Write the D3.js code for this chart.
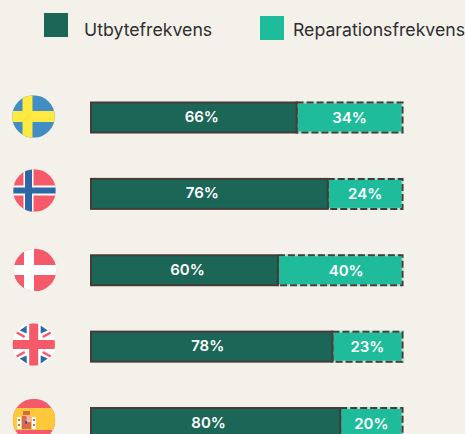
<!DOCTYPE html>
<html><head><meta charset="utf-8">
<script src="https://cdn.jsdelivr.net/npm/d3@7/dist/d3.min.js"></script>
<style>html,body{margin:0;padding:0;background:#f4f1ea;overflow:hidden}svg{display:block}text{font-family:Inter,"DejaVu Sans",sans-serif}</style>
</head><body><div id="c"></div>
<script>
const countries = ["SE","NO","DK","GB","ES"];
const replaceRate = [66, 76, 60, 77.5, 80];
const repairRate = [34, 24, 40, 22.5, 20];
const seriesNames = ["Utbytefrekvens","Reparationsfrekvens"];
const colors = ["#1b6657","#1fbc9b"];
const W=465,H=434;
const svg=d3.select("#c").append("svg").attr("width",W).attr("height",H);
svg.append("rect").attr("width",W).attr("height",H).attr("fill","#f4f1ea");
const x=d3.scaleLinear().domain([0,100]).range([91,402.5]);
const y=d3.scalePoint().domain(countries).range([117.5,423]);
const barH=30;
const ink="#453c38";
svg.append("rect").attr("x",44).attr("y",13).attr("width",24).attr("height",24).attr("fill",colors[0]);
svg.append("rect").attr("x",260).attr("y",16).attr("width",24).attr("height",24).attr("fill",colors[1]);
[[84,seriesNames[0]],[293,seriesNames[1]]].forEach(([lx,t])=>svg.append("text").attr("x",lx).attr("y",36).attr("font-size",17.7).attr("fill","#2e2e30").text(t));
const leftShift=[8,-7,3,-4,-7], rightShift=[0,0,6,0,0];
countries.forEach((c,i)=>{
  const yy=y(c)-barH/2;
  const g=svg.append("g");
  const x1=x(replaceRate[i]),x2=x(replaceRate[i]+repairRate[i]);
  g.append("rect").attr("x",x1).attr("y",yy).attr("width",x2-x1).attr("height",barH).attr("fill",colors[1]);
  g.append("rect").attr("x",x1).attr("y",yy).attr("width",x2-x1).attr("height",barH).attr("fill","none")
    .attr("stroke","#a8e6d6").attr("stroke-width",2);
  g.append("rect").attr("x",x1).attr("y",yy).attr("width",x2-x1).attr("height",barH).attr("fill","none")
    .attr("stroke",ink).attr("stroke-width",2).attr("stroke-dasharray","7 3");
  g.append("rect").attr("x",x(0)).attr("y",yy).attr("width",x1-x(0)).attr("height",barH)
    .attr("fill",colors[0]).attr("stroke",ink).attr("stroke-width",2);
  g.append("text").attr("x",(x(0)+x1)/2+leftShift[i]).attr("y",y(c)+4.5).attr("text-anchor","middle").attr("font-size",15).attr("font-weight",600).attr("fill","#fff").text(Math.round(replaceRate[i])+"%");
  g.append("text").attr("x",(x1+x2)/2+rightShift[i]).attr("y",y(c)+5.5).attr("text-anchor","middle").attr("font-size",15).attr("font-weight",600).attr("fill","#fff").text(Math.round(repairRate[i])+"%");
});
const R=21.3;
const defs=svg.append("defs");
const flagX=[33.5,34.5,35,33.7,34], flagY=[116.5,190.5,270,344.5,420];
const red="#f55a6a",blue="#2d67a6",white="#fff";
function rect(g,a,b,w,h,f){g.append("rect").attr("x",a).attr("y",b).attr("width",w).attr("height",h).attr("fill",f);}
function flag(i,fn){
  defs.append("clipPath").attr("id","f"+i).append("circle").attr("r",R);
  const g=svg.append("g").attr("transform",`translate(${flagX[i]},${flagY[i]})`).append("g").attr("clip-path",`url(#f${i})`);
  fn(g);
}
flag(0,g=>{rect(g,-R,-R,2*R,2*R,"#428dc4");rect(g,-11,-R,10,2*R,"#fde93f");rect(g,-R,-5.5,2*R,11,"#fde93f");});
flag(1,g=>{rect(g,-R,-R,2*R,2*R,red);rect(g,-11,-R,10,2*R,white);rect(g,-R,-5,2*R,10,white);rect(g,-9.5,-R,7,2*R,blue);rect(g,-R,-3,2*R,6,blue);});
flag(2,g=>{rect(g,-R,-R,2*R,2*R,red);rect(g,-11,-R,10,2*R,white);rect(g,-R,-5,2*R,10,white);});
flag(3,g=>{rect(g,-R,-R,2*R,2*R,white);
  [[-1,-1],[1,-1],[-1,1],[1,1]].forEach(([a,b])=>{
    g.append("path").attr("d",d3.line()([[a*7,b*19],[a*7,b*11],[a*14,b*14]])).attr("fill",blue);
    g.append("line").attr("x1",a*9).attr("y1",b*7.5).attr("x2",a*17).attr("y2",b*12).attr("stroke",red).attr("stroke-width",2.5);
  });
  rect(g,-4.5,-R,9,2*R,red);rect(g,-R,-4.5,2*R,9,red);});
flag(4,g=>{rect(g,-R,-R,2*R,2*R,red);rect(g,-R,-12,2*R,22,"#fdc93b");
  rect(g,-17,-3,4,12,white);rect(g,-2,-3,4,12,white);
  rect(g,-16,-1,2,2,"#d9694e");rect(g,-1,-1,2,2,"#d9694e");rect(g,-16,4,2,2,"#d9694e");rect(g,-1,4,2,2,"#d9694e");
  rect(g,-12,-4,9,13,"#d9694e");rect(g,-7.5,-4,4.5,6,"#f6b5b5");rect(g,-9,1,2,3,blue);rect(g,-11,-9,7,4,"#d9694e");});
</script></body></html>
